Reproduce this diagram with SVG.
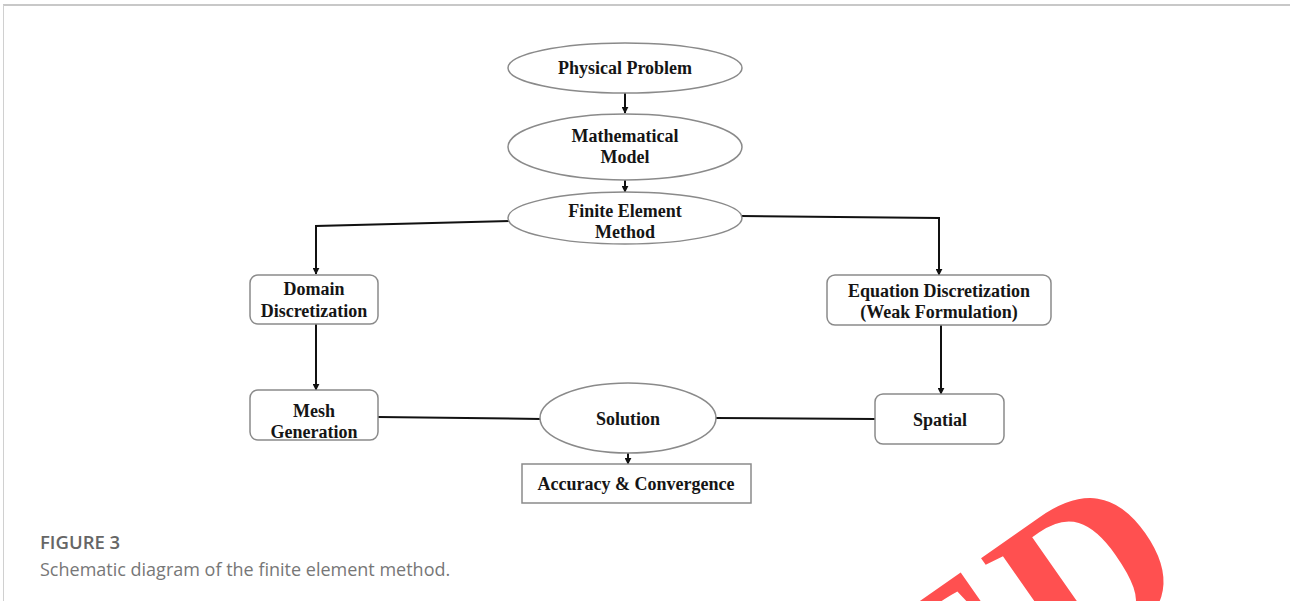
<svg xmlns="http://www.w3.org/2000/svg" width="1290" height="601" viewBox="0 0 1290 601">
<defs>
<marker id="ah" viewBox="0 0 10 10" refX="9" refY="5" markerWidth="3.5" markerHeight="3.5" orient="auto" markerUnits="strokeWidth">
<path d="M0,0 L10,5 L0,10 z" fill="#111"/>
</marker>
</defs>
<style>
.node{fill:#fff;stroke:#8a8a8a;stroke-width:1.5}
.lbl{font-family:"Liberation Serif","Times New Roman",serif;font-weight:bold;font-size:18px;fill:#151515;text-anchor:middle}
.con{fill:none;stroke:#111;stroke-width:2}
.arr{marker-end:url(#ah)}
.cap1{font-family:"Open Sans","Noto Sans",sans-serif;font-weight:600;font-size:18.5px;fill:#666}
.cap2{font-family:"Open Sans","Noto Sans",sans-serif;font-size:18px;fill:#777}
</style>
<rect width="1290" height="601" fill="#fff"/>
<g id="frame">
<line x1="3" y1="5" x2="1290" y2="5" stroke="#c8c8c8" stroke-width="2"/>
<line x1="3.5" y1="5" x2="3.5" y2="601" stroke="#d0d0d0" stroke-width="1"/>
</g>
<g id="connectors">
<line class="con arr" x1="625" y1="93" x2="625" y2="113"/>
<line class="con arr" x1="625" y1="180" x2="625" y2="192"/>
<polyline class="con arr" points="510,221 316,226 316,274"/>
<polyline class="con arr" points="741,216 939,218 939,275"/>
<line class="con arr" x1="316" y1="323" x2="316" y2="390"/>
<line class="con arr" x1="941" y1="325" x2="941" y2="394"/>
<line class="con" x1="378" y1="417" x2="541" y2="419"/>
<line class="con" x1="715" y1="418" x2="875" y2="419"/>
<line class="con arr" x1="628" y1="452" x2="628" y2="464"/>
</g>
<g id="physical-problem">
<ellipse class="node" cx="625" cy="68" rx="117" ry="25"/>
<text class="lbl" x="625" y="74">Physical Problem</text>
</g>
<g id="mathematical-model">
<ellipse class="node" cx="625" cy="147" rx="117" ry="33"/>
<text class="lbl" x="625" y="142">Mathematical</text>
<text class="lbl" x="625" y="163">Model</text>
</g>
<g id="finite-element-method">
<ellipse class="node" cx="625" cy="218" rx="117" ry="26"/>
<text class="lbl" x="625" y="217">Finite Element</text>
<text class="lbl" x="625" y="238">Method</text>
</g>
<g id="domain-discretization">
<rect class="node" x="250" y="275" width="128" height="49" rx="8"/>
<text class="lbl" x="314" y="295">Domain</text>
<text class="lbl" x="314" y="317">Discretization</text>
</g>
<g id="equation-discretization">
<rect class="node" x="827" y="275" width="224" height="50" rx="8"/>
<text class="lbl" x="939" y="297">Equation Discretization</text>
<text class="lbl" x="939" y="318">(Weak Formulation)</text>
</g>
<g id="mesh-generation">
<rect class="node" x="250" y="390" width="128" height="50" rx="8"/>
<text class="lbl" x="314" y="417">Mesh</text>
<text class="lbl" x="314" y="438">Generation</text>
</g>
<g id="spatial">
<rect class="node" x="875" y="394" width="129" height="50" rx="8"/>
<text class="lbl" x="940" y="426">Spatial</text>
</g>
<g id="solution">
<ellipse class="node" cx="628" cy="418" rx="88" ry="35"/>
<text class="lbl" x="628" y="425">Solution</text>
</g>
<g id="accuracy-convergence">
<rect class="node" x="522" y="464" width="229" height="39"/>
<text class="lbl" x="636" y="490">Accuracy &amp; Convergence</text>
</g>
<g id="caption">
<text class="cap1" x="40" y="549">FIGURE 3</text>
<text class="cap2" x="40" y="576">Schematic diagram of the finite element method.</text>
</g>
<g id="stamp">
<text x="0" y="0" transform="translate(939,769) rotate(-35)" font-family="'Liberation Serif','Times New Roman',serif" font-weight="bold" font-size="227" fill="#ff5050">ED</text>
</g>
</svg>
